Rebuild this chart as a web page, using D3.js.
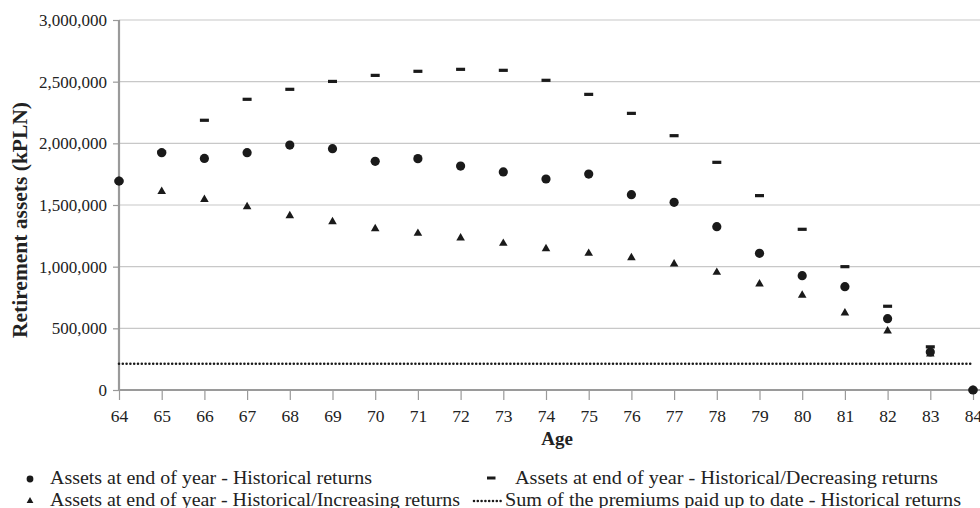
<!DOCTYPE html>
<html>
<head>
<meta charset="utf-8">
<script src="https://cdn.jsdelivr.net/npm/d3@7"></script>
<style>
  html, body { margin: 0; padding: 0; background: #fff; }
  svg { display: block; font-family: "Liberation Serif", "Times New Roman", serif; }
</style>
</head>
<body>
<svg id="chart" width="980" height="508"></svg>
<script>
const ages = [64, 65, 66, 67, 68, 69, 70, 71, 72, 73, 74, 75, 76, 77, 78, 79, 80, 81, 82, 83, 84];
const historical = [1694000, 1924000, 1878000, 1924000, 1986000, 1957000, 1854000, 1876000, 1816000, 1768000, 1711000, 1751000, 1584000, 1522000, 1324000, 1108000, 927000, 838000, 578000, 308000, 0];
const decreasing = [1694000, 1930000, 2187000, 2357000, 2438000, 2502000, 2551000, 2584000, 2600000, 2592000, 2511000, 2397000, 2243000, 2062000, 1846000, 1576000, 1303000, 1000000, 679000, 350000, 0];
const increasing = [1694000, 1610000, 1545000, 1486000, 1413000, 1365000, 1308000, 1270000, 1232000, 1189000, 1146000, 1108000, 1073000, 1022000, 954000, 859000, 768000, 624000, 478000, 292000, 0];
const premiums = [213000, 213000, 213000, 213000, 213000, 213000, 213000, 213000, 213000, 213000, 213000, 213000, 213000, 213000, 213000, 213000, 213000, 213000, 213000, 213000, 213000];
const yTicks = [0, 500000, 1000000, 1500000, 2000000, 2500000, 3000000];
const legendLabels = [
  "Assets at end of year - Historical returns",
  "Assets at end of year - Historical/Decreasing returns",
  "Assets at end of year - Historical/Increasing returns",
  "Sum of the premiums paid up to date - Historical returns"
];

const svg = d3.select("#chart");
const x = d3.scaleLinear().domain([64, 84]).range([119, 973]);
const y = d3.scaleLinear().domain([0, 3000000]).range([390, 20]);
const fmt = d3.format(",");

// gridlines
svg.append("g").selectAll("line").data(yTicks.filter(d => d > 0)).join("line")
  .attr("x1", 119).attr("x2", 980)
  .attr("y1", d => y(d)).attr("y2", d => y(d))
  .attr("stroke", "#c8c8c8").attr("stroke-width", 1.2);

// y axis
const yAxis = svg.append("g").attr("transform", "translate(119,0)")
  .call(d3.axisLeft(y).tickValues(yTicks).tickFormat(fmt).tickSize(6).tickPadding(6));
yAxis.select(".domain").remove();
yAxis.selectAll(".tick line").attr("stroke", "#9a9a9a").attr("stroke-width", 1.2);
yAxis.selectAll(".tick text").attr("font-size", 17).attr("fill", "#222")
  .attr("font-family", "Liberation Serif");
svg.append("line").attr("x1", 119).attr("x2", 119).attr("y1", y(3000000)).attr("y2", 391)
  .attr("stroke", "#9a9a9a").attr("stroke-width", 2.2);

// x axis
const xAxis = svg.append("g").attr("transform", "translate(0,390)")
  .call(d3.axisBottom(x).tickValues(ages).tickFormat(d3.format("d")).tickSize(10).tickPadding(10));
xAxis.select(".domain").remove();
xAxis.selectAll(".tick line").attr("stroke", "#9a9a9a").attr("stroke-width", 1.2);
xAxis.selectAll(".tick text").attr("font-size", 17.5).attr("fill", "#222")
  .attr("font-family", "Liberation Serif");
svg.append("line").attr("x1", 118).attr("x2", 980).attr("y1", 390).attr("y2", 390)
  .attr("stroke", "#9a9a9a").attr("stroke-width", 2.2);

// titles
svg.append("text").attr("x", 557).attr("y", 445).attr("text-anchor", "middle")
  .attr("font-size", 19).attr("font-weight", "bold").attr("fill", "#222").text("Age");
svg.append("text").attr("transform", "translate(27,220) rotate(-90)").attr("text-anchor", "middle")
  .attr("font-size", 20).attr("font-weight", "bold").attr("fill", "#222")
  .attr("textLength", 236).attr("lengthAdjust", "spacingAndGlyphs")
  .text("Retirement assets (kPLN)");

const ink = "#1a1a1a";

// premiums dotted line
const line = d3.line().x((d, i) => x(ages[i])).y(d => y(d));
svg.append("path").datum(premiums).attr("d", line)
  .attr("fill", "none").attr("stroke", ink).attr("stroke-width", 2.6)
  .attr("stroke-linecap", "round").attr("stroke-dasharray", "0,3.8");

// increasing - triangles
const tri = d3.symbol(d3.symbolTriangle, 32);
svg.append("g").selectAll("path").data(increasing).join("path")
  .attr("d", tri)
  .attr("transform", (d, i) => `translate(${x(ages[i])},${y(d)})`)
  .attr("fill", ink);

// historical - circles
svg.append("g").selectAll("circle").data(historical).join("circle")
  .attr("cx", (d, i) => x(ages[i])).attr("cy", d => y(d)).attr("r", 4.6)
  .attr("fill", ink);

// decreasing - dashes
svg.append("g").selectAll("rect").data(decreasing).join("rect")
  .attr("x", (d, i) => x(ages[i]) - 4.5).attr("y", d => y(d) - 1.6)
  .attr("width", 9).attr("height", 3.2)
  .attr("fill", ink);

// legend
const lg = svg.append("g").attr("font-size", 19.5).attr("fill", "#222");
lg.append("circle").attr("cx", 30).attr("cy", 479).attr("r", 3.4).attr("fill", ink);
lg.append("text").attr("x", 50).attr("y", 484).attr("textLength", 322).attr("lengthAdjust", "spacingAndGlyphs").text(legendLabels[0]);
lg.append("rect").attr("x", 487).attr("y", 476.5).attr("width", 8.5).attr("height", 3).attr("fill", ink);
lg.append("text").attr("x", 515).attr("y", 484).attr("textLength", 423).attr("lengthAdjust", "spacingAndGlyphs").text(legendLabels[1]);
lg.append("path").attr("d", d3.symbol(d3.symbolTriangle, 20))
  .attr("transform", "translate(30,501)").attr("fill", ink);
lg.append("text").attr("x", 50).attr("y", 505.5).attr("textLength", 410).attr("lengthAdjust", "spacingAndGlyphs").text(legendLabels[2]);
lg.append("line").attr("x1", 474).attr("x2", 502).attr("y1", 501).attr("y2", 501)
  .attr("stroke", ink).attr("stroke-width", 2.6).attr("stroke-linecap", "round")
  .attr("stroke-dasharray", "0,3.8");
lg.append("text").attr("x", 505).attr("y", 505.5).attr("textLength", 456).attr("lengthAdjust", "spacingAndGlyphs").text(legendLabels[3]);
</script>
</body>
</html>
